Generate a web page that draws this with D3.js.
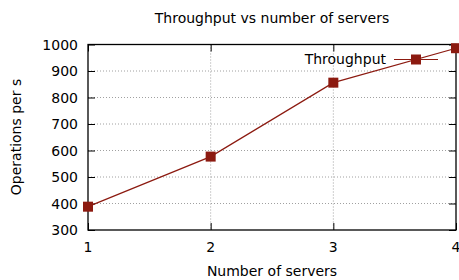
<!DOCTYPE html>
<html><head><meta charset="utf-8">
<script src="https://cdn.jsdelivr.net/npm/d3@7"></script>
<style>body{margin:0;background:#fff}svg{display:block}text{font-family:"DejaVu Sans",sans-serif;font-size:14px;fill:#000}</style>
</head><body><svg id="c" width="459" height="280"></svg>
<script>
const servers = [1, 2, 3, 4];
const throughput = [388, 577, 856, 986];
const xTicks = [1, 2, 3, 4];
const yTicks = [300, 400, 500, 600, 700, 800, 900, 1000];
const title = "Throughput vs number of servers";
const xLabel = "Number of servers";
const yLabel = "Operations per s";
const seriesName = "Throughput";
const color = "#8c1a10";

const svg = d3.select("#c");
const L = 88, R = 456, T = 44.5, B = 230;
const x = d3.scaleLinear().domain([1, 4]).range([L, R]);
const y = d3.scaleLinear().domain([300, 1000]).range([B, T]);

// grid
const g = svg.append("g");
g.selectAll(".gy").data(yTicks.slice(1, -1)).join("line")
  .attr("x1", L).attr("x2", R).attr("y1", d => y(d)).attr("y2", d => y(d))
  .attr("stroke", "#a0a0a0").attr("stroke-width", 1).attr("stroke-dasharray", "1,2");
g.selectAll(".gx").data(xTicks.slice(1, -1)).join("line")
  .attr("x1", d => x(d)).attr("x2", d => x(d)).attr("y1", T).attr("y2", B)
  .attr("stroke", "#a0a0a0").attr("stroke-width", 1).attr("stroke-dasharray", "1,2");

// axes with inward ticks
const axL = svg.append("g").attr("transform", `translate(${L},0)`)
  .call(d3.axisRight(y).tickValues(yTicks).tickSize(7).tickFormat(""));
const axR = svg.append("g").attr("transform", `translate(${R},0)`)
  .call(d3.axisLeft(y).tickValues(yTicks).tickSize(7).tickFormat(""));
const axB = svg.append("g").attr("transform", `translate(0,${B})`)
  .call(d3.axisTop(x).tickValues(xTicks).tickSize(7).tickFormat(""));
const axT = svg.append("g").attr("transform", `translate(0,${T})`)
  .call(d3.axisBottom(x).tickValues(xTicks).tickSize(7).tickFormat(""));
[axL, axR, axB, axT].forEach(a => { a.select(".domain").remove(); a.selectAll("line").attr("stroke", "#000"); });

// border
svg.append("rect").attr("x", L).attr("y", T).attr("width", R - L).attr("height", B - T)
  .attr("fill", "none").attr("stroke", "#000").attr("stroke-width", 1.3);

// tick labels
svg.selectAll(".yl").data(yTicks).join("text")
  .attr("x", 78).attr("y", d => y(d) + 5).attr("text-anchor", "end").text(d => d);
svg.selectAll(".xl").data(xTicks).join("text")
  .attr("x", d => x(d)).attr("y", 252).attr("text-anchor", "middle").text(d => d);

// titles
svg.append("text").attr("x", 272).attr("y", 23).attr("text-anchor", "middle").text(title);
svg.append("text").attr("x", 272).attr("y", 276).attr("text-anchor", "middle").text(xLabel);
svg.append("text").attr("transform", `translate(21,137) rotate(-90)`).attr("text-anchor", "middle").text(yLabel);

// series
const line = d3.line().x((d, i) => x(servers[i])).y(d => y(d));
svg.append("path").datum(throughput).attr("d", line).attr("fill", "none")
  .attr("stroke", color).attr("stroke-width", 1.2);
svg.selectAll(".pt").data(throughput).join("rect")
  .attr("x", (d, i) => x(servers[i]) - 5).attr("y", d => y(d) - 5)
  .attr("width", 10).attr("height", 10).attr("fill", color);

// legend
svg.append("text").attr("x", 386).attr("y", 64).attr("text-anchor", "end").text(seriesName);
svg.append("line").attr("x1", 394).attr("x2", 438).attr("y1", 59.5).attr("y2", 59.5)
  .attr("stroke", color).attr("stroke-width", 1.2);
svg.append("rect").attr("x", 416 - 5).attr("y", 59.5 - 5).attr("width", 10).attr("height", 10).attr("fill", color);
</script></body></html>
